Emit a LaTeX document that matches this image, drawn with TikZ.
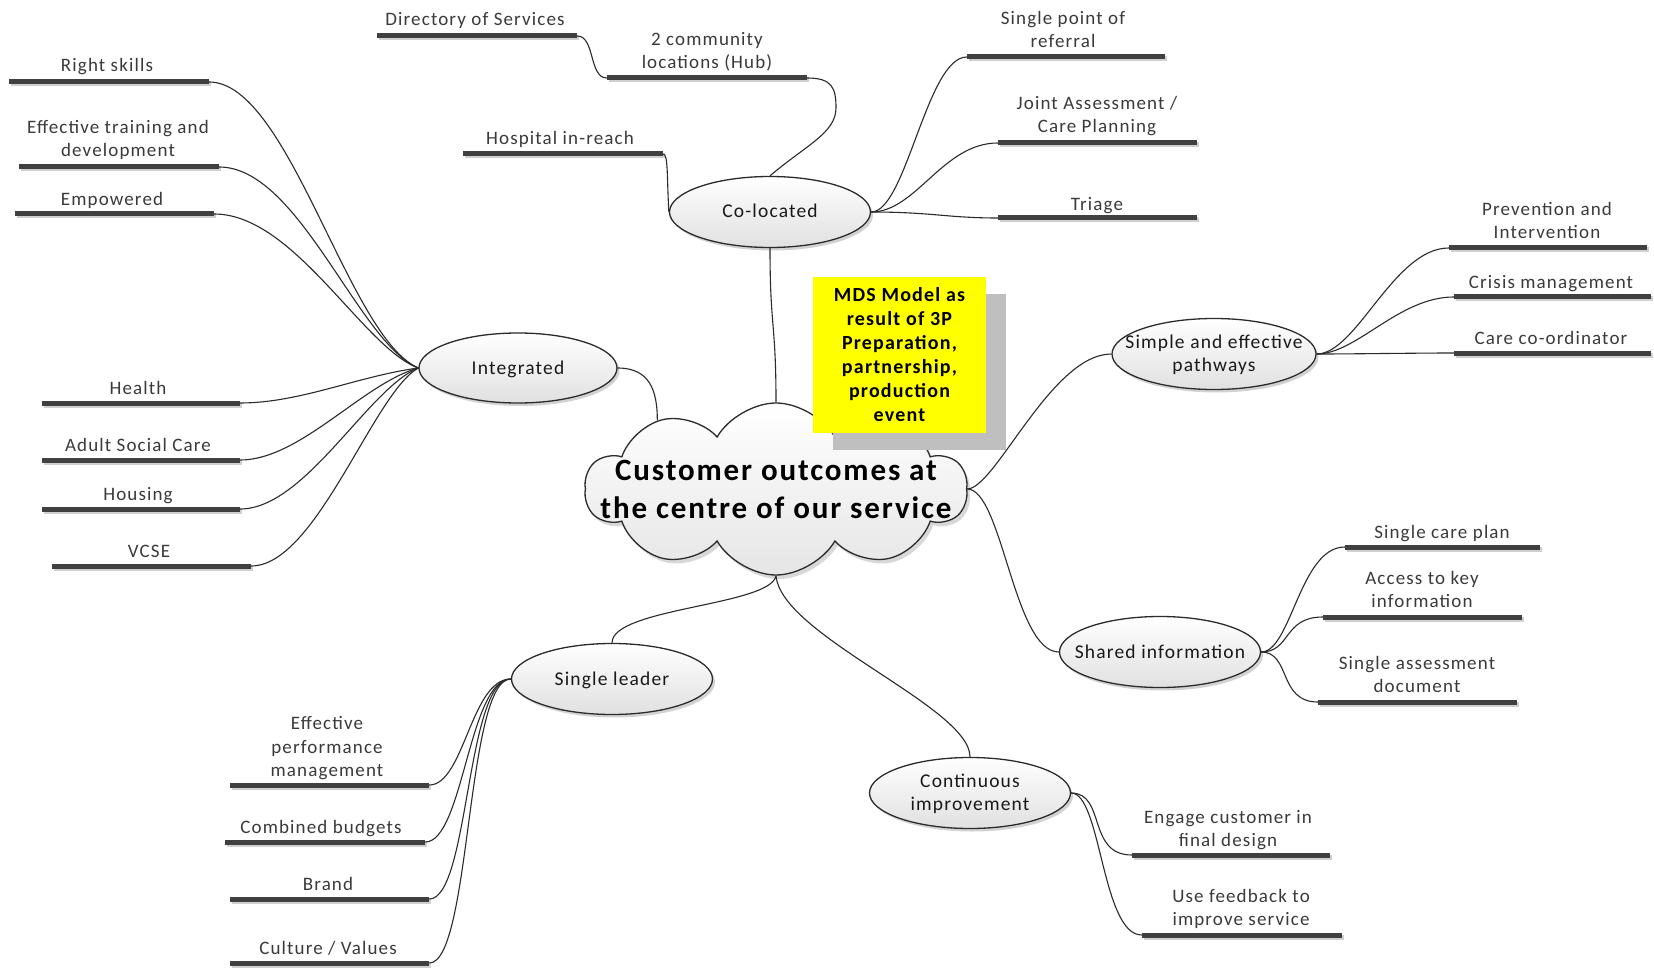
\documentclass[tikz,border=0pt]{standalone}
\usepackage{fontspec}
\setmainfont{Carlito}
\newfontfamily\lbfont{Carlito}[LetterSpace=6]
\usetikzlibrary{shapes.symbols,shapes.geometric,shadows}
\definecolor{barc}{HTML}{404040}
\definecolor{txtc}{HTML}{3A3A3A}
\definecolor{linec}{HTML}{2B2B2B}
\definecolor{notey}{HTML}{FFFF00}
\definecolor{noteshadow}{HTML}{BFBFBF}
\newcommand\zw[1]{\makebox[0pt]{#1}}
\begin{document}
\begin{tikzpicture}[x=1pt,y=-1pt,
  bar/.style={fill=barc, minimum width=199pt, minimum height=5pt, inner sep=0pt, draw=none,
    drop shadow={shadow xshift=1.5pt, shadow yshift=-2pt, fill=black!30, opacity=0.6}},
  lbl/.style={text=txtc, align=center, inner sep=0pt, text height=14pt, text depth=5pt, yshift=-1.5pt,
    font=\lbfont\fontsize{19}{23.5}\selectfont},
  two/.style={text height=37.5pt, text depth=5pt},
  three/.style={text height=61pt, text depth=5pt},
  topic/.style={ellipse, draw=linec, line width=1.3pt, top color=white, bottom color=black!12,
    minimum width=201pt, minimum height=71pt, inner sep=0pt, align=center,
    text height=17pt, text depth=5pt,
    font=\lbfont\fontsize{19.5}{23.5}\selectfont, text=black!90,
    drop shadow={shadow xshift=2.5pt, shadow yshift=-3pt, fill=black!35, opacity=0.5}},
  ttwo/.style={text height=40.5pt, text depth=5pt},
  core/.style={cloud, cloud puffs=10, cloud puff arc=120, cloud ignores aspect,
    minimum width=382pt, minimum height=172pt, draw=linec, line width=1.3pt,
    top color=white, bottom color=black!10, inner sep=0pt, align=center,
    font=\lbfont\bfseries\fontsize{31}{38}\selectfont,
    drop shadow={shadow xshift=3pt, shadow yshift=-4pt, fill=black!30, opacity=0.5}},
  note/.style={fill=notey, minimum width=173pt, minimum height=156pt, inner sep=0pt, align=center,
    font=\lbfont\bfseries\fontsize{20}{24}\selectfont,
    drop shadow={shadow xshift=20pt, shadow yshift=-17pt, fill=noteshadow, opacity=1}},
  conn/.style={draw=linec, line width=1.1pt},
]
\useasboundingbox (0,0) rectangle (1654,968);
\fill[white] (0,0) rectangle (1654,968);

% ---- central topic and main branches
\node[core] (core) at (776,489) {\zw{Customer outcomes at}\\\zw{the centre of our service}};
\node[topic] (co) at (770,212) {\zw{Co-located}};
\node[topic, minimum width=198pt, minimum height=70pt] (int) at (518,368) {\zw{Integrated}};
\node[topic, ttwo, minimum width=204pt] (sep) at (1214,354) {\zw{Simple and effective}\\\zw{pathways}};
\node[topic] (shi) at (1160,652) {\zw{Shared information}};
\node[topic, ttwo] (ci) at (970,793) {\zw{Continuous}\\\zw{improvement}};
\node[topic] (sl) at (612,679) {\zw{Single leader}};

% ---- leaves: bars
\node[bar, minimum width=200pt] (b-rs) at (109,82) {};
\node[bar, minimum width=200pt] (b-etd) at (119,167) {};
\node[bar] (b-emp) at (114.5,214) {};
\node[bar, minimum width=198pt] (b-hea) at (141,403) {};
\node[bar, minimum width=198pt] (b-asc) at (141,460) {};
\node[bar, minimum width=198pt] (b-hou) at (141,509) {};
\node[bar] (b-vcs) at (151.5,566) {};
\node[bar, minimum width=200pt] (b-dos) at (477,36) {};
\node[bar, minimum width=200pt] (b-hub) at (707,78) {};
\node[bar, minimum width=200pt] (b-hos) at (563,154) {};
\node[bar, minimum width=198pt] (b-spr) at (1066,57) {};
\node[bar] (b-jac) at (1097.5,143) {};
\node[bar] (b-tri) at (1097.5,218) {};
\node[bar, minimum width=198pt] (b-pai) at (1548,248) {};
\node[bar, minimum width=197pt] (b-crm) at (1552.5,297) {};
\node[bar, minimum width=197pt] (b-cco) at (1552.5,353) {};
\node[bar, minimum width=195pt] (b-scp) at (1442.5,547) {};
\node[bar] (b-akt) at (1422.5,617) {};
\node[bar] (b-sad) at (1417.5,702) {};
\node[bar, minimum width=198pt] (b-ecf) at (1231,855) {};
\node[bar, minimum width=200pt] (b-ufi) at (1242,935) {};
\node[bar] (b-epm) at (329.5,785) {};
\node[bar, minimum width=200pt] (b-cbu) at (325,842) {};
\node[bar] (b-bra) at (329.5,899) {};
\node[bar] (b-cuv) at (329.5,963) {};

% ---- leaves: texts
\node[lbl] (t-rs) at (107,66) {Right skills};
\node[lbl, two] (t-etd) at (118,139) {Effective training and\\development};
\node[lbl] (t-emp) at (112,200) {Empowered};
\node[lbl] (t-hea) at (138,388) {Health};
\node[lbl] (t-asc) at (138,445) {Adult Social Care};
\node[lbl] (t-hou) at (138,494) {Housing};
\node[lbl] (t-vcs) at (149,551) {VCSE};
\node[lbl] (t-dos) at (475,20) {Directory of Services};
\node[lbl, two] (t-hub) at (707,51) {2 community\\locations (Hub)};
\node[lbl] (t-hos) at (560,139) {Hospital in-reach};
\node[lbl, two] (t-spr) at (1063,30) {Single point of\\referral};
\node[lbl, two] (t-jac) at (1097,115) {Joint Assessment /\\Care Planning};
\node[lbl] (t-tri) at (1097,205) {Triage};
\node[lbl, two] (t-pai) at (1547,221) {Prevention and\\Intervention};
\node[lbl] (t-crm) at (1551,282) {Crisis management};
\node[lbl] (t-cco) at (1551,338) {Care co-ordinator};
\node[lbl] (t-scp) at (1442,532) {Single care plan};
\node[lbl, two] (t-akt) at (1422,590) {Access to key\\information};
\node[lbl, two] (t-sad) at (1417,675) {Single assessment\\document};
\node[lbl, two] (t-ecf) at (1228,829) {Engage customer in\\final design};
\node[lbl, two] (t-ufi) at (1241,908) {Use feedback to\\improve service};
\node[lbl, three] (t-epm) at (327,747) {Effective\\performance\\management};
\node[lbl] (t-cbu) at (321,827) {Combined budgets};
\node[lbl] (t-bra) at (328,884) {Brand};
\node[lbl] (t-cuv) at (328,948) {Culture / Values};

% ---- connectors: central
\draw[conn] (co.south) .. controls +(0,80) and +(0,-80) .. (core.north);
\draw[conn] (int.east) .. controls +(32,0) and +(0,-30) .. (core.150);
\draw[conn] (core.east) .. controls +(28,0) and +(-60,0) .. (sep.west);
\draw[conn] (core.east) .. controls +(35,0) and +(-45,0) .. (shi.west);
\draw[conn] (core.south) .. controls +(-5,30) and +(0,-35) .. (sl.north);
\draw[conn] (core.south) .. controls +(5,60) and +(0,-50) .. (ci.north);

% ---- connectors: Integrated
\draw[conn] (b-rs.east) .. controls +(80,0) and +(-70,-30) .. (int.west);
\draw[conn] (b-etd.east) .. controls +(80,0) and +(-60,-25) .. (int.west);
\draw[conn] (b-emp.east) .. controls +(80,0) and +(-55,-20) .. (int.west);
\draw[conn] (b-hea.east) .. controls +(60,0) and +(-60,8) .. (int.west);
\draw[conn] (b-asc.east) .. controls +(60,0) and +(-55,15) .. (int.west);
\draw[conn] (b-hou.east) .. controls +(65,0) and +(-50,20) .. (int.west);
\draw[conn] (b-vcs.east) .. controls +(65,0) and +(-45,25) .. (int.west);

% ---- connectors: Co-located
\coordinate (hubbend) at (836,108);
\draw[conn] (b-dos.east) .. controls +(18,0) and +(-18,0) .. (b-hub.west);
\draw[conn] (b-hub.east) .. controls +(25,0) and +(0,-20) .. (hubbend)
  .. controls +(0,25) and +(35,-30) .. (co.north);
\draw[conn] (b-hos.east) .. controls +(5,0) and +(-2,-35) .. (co.west);
\draw[conn] (co.east) .. controls +(35,0) and +(-40,0) .. (b-spr.west);
\draw[conn] (co.east) .. controls +(45,0) and +(-55,0) .. (b-jac.west);
\draw[conn] (co.east) .. controls +(60,0) and +(-50,0) .. (b-tri.west);

% ---- connectors: Simple and effective pathways
\draw[conn] (sep.east) .. controls +(40,0) and +(-55,0) .. (b-pai.west);
\draw[conn] (sep.east) .. controls +(40,0) and +(-55,0) .. (b-crm.west);
\draw[conn] (sep.east) .. controls +(40,0) and +(-40,0) .. (b-cco.west);

% ---- connectors: Shared information
\draw[conn] (shi.east) .. controls +(30,0) and +(-45,0) .. (b-scp.west);
\draw[conn] (shi.east) .. controls +(30,0) and +(-40,0) .. (b-akt.west);
\draw[conn] (shi.east) .. controls +(30,0) and +(-40,0) .. (b-sad.west);

% ---- connectors: Continuous improvement
\draw[conn] (ci.east) .. controls +(35,0) and +(-45,0) .. (b-ecf.west);
\draw[conn] (ci.east) .. controls +(30,0) and +(-40,0) .. (b-ufi.west);

% ---- connectors: Single leader
\draw[conn] (sl.west) .. controls +(-40,0) and +(35,0) .. (b-epm.east);
\draw[conn] (sl.west) .. controls +(-42,0) and +(38,0) .. (b-cbu.east);
\draw[conn] (sl.west) .. controls +(-45,0) and +(40,0) .. (b-bra.east);
\draw[conn] (sl.west) .. controls +(-45,0) and +(42,0) .. (b-cuv.east);

% ---- sticky note
\node[note] (note) at (899.5,355) {MDS Model as\\result of 3P\\Preparation,\\partnership,\\production\\event};
\end{tikzpicture}
\end{document}
